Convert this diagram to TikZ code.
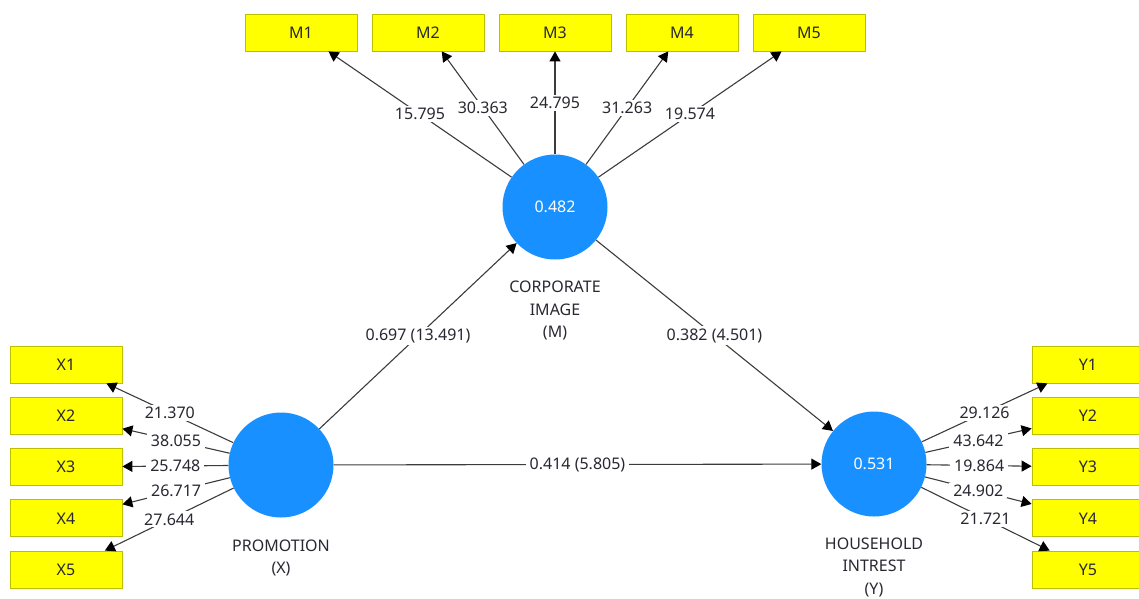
\documentclass[tikz,border=0pt]{standalone}
\usepackage{fontspec}
\setmainfont{Noto Sans}
\usetikzlibrary{arrows.meta}
\definecolor{latblue}{RGB}{24,144,255}
\definecolor{boxyel}{RGB}{255,255,0}
\definecolor{boxedge}{RGB}{190,190,0}
\definecolor{linegray}{RGB}{60,60,60}
\definecolor{txt}{RGB}{40,40,50}
\begin{document}
\begin{tikzpicture}[x=1pt,y=-1pt,
  every node/.style={font=\fontsize{16}{19}\selectfont},
  lat/.style={circle, fill=latblue, minimum size=105pt, inner sep=0pt, text=white},
  ind/.style={rectangle, fill=boxyel, draw=boxedge, line width=0.8pt, minimum width=112pt, minimum height=37pt, inner sep=0pt, text=txt},
  lnk/.style={draw=linegray, line width=1.1pt, -{Triangle[length=10pt,width=11pt,color=black]}},
  lbl/.style={fill=white, inner xsep=4pt, inner ysep=2pt, text=txt, pos=0.5},
  latcap/.style={align=center, text=txt, inner sep=0pt, anchor=north, font=\fontsize{16}{22.5}\selectfont}
]
\useasboundingbox (0,0) rectangle (1139,598);

% latent variables
\node[lat] (M) at (555,207) {0.482};
\node[lat] (X) at (281,465) {};
\node[lat] (Y) at (874,464) {0.531};

\node[latcap] (Mc) at (555,281) {CORPORATE\\IMAGE\\(M)};
\node[latcap] (Xc) at (281,539.5) {PROMOTION\\(X)};
\node[latcap] (Yc) at (874,537.5) {HOUSEHOLD\\INTREST\\(Y)};

% indicators M
\node[ind] (M1) at (301,32.5) {M1};
\node[ind] (M2) at (428,32.5) {M2};
\node[ind] (M3) at (555,32.5) {M3};
\node[ind] (M4) at (682,32.5) {M4};
\node[ind] (M5) at (809,32.5) {M5};

% indicators X
\node[ind] (X1) at (66,364.5) {X1};
\node[ind] (X2) at (66,415.75) {X2};
\node[ind] (X3) at (66,467) {X3};
\node[ind] (X4) at (66,518.25) {X4};
\node[ind] (X5) at (66,569.5) {X5};

% indicators Y
\node[ind] (Y1) at (1088,364.5) {Y1};
\node[ind] (Y2) at (1088,415.75) {Y2};
\node[ind] (Y3) at (1088,467) {Y3};
\node[ind] (Y4) at (1088,518.25) {Y4};
\node[ind] (Y5) at (1088,569.5) {Y5};

% outer loadings
\draw[lnk] (M) -- node[lbl]{15.795} (M1);
\draw[lnk] (M) -- node[lbl]{30.363} (M2);
\draw[lnk] (M) -- node[lbl]{24.795} (M3);
\draw[lnk] (M) -- node[lbl]{31.263} (M4);
\draw[lnk] (M) -- node[lbl]{19.574} (M5);

\draw[lnk] (X) -- node[lbl]{21.370} (X1);
\draw[lnk] (X) -- node[lbl]{38.055} (X2);
\draw[lnk] (X) -- node[lbl]{25.748} (X3);
\draw[lnk] (X) -- node[lbl]{26.717} (X4);
\draw[lnk] (X) -- node[lbl]{27.644} (X5);

\draw[lnk] (Y) -- node[lbl]{29.126} (Y1);
\draw[lnk] (Y) -- node[lbl]{43.642} (Y2);
\draw[lnk] (Y) -- node[lbl]{19.864} (Y3);
\draw[lnk] (Y) -- node[lbl]{24.902} (Y4);
\draw[lnk] (Y) -- node[lbl]{21.721} (Y5);

% structural paths
\draw[lnk] (X) -- node[lbl]{0.697 (13.491)} (M);
\draw[lnk] (M) -- node[lbl]{0.382 (4.501)} (Y);
\draw[lnk] (X) -- node[lbl]{0.414 (5.805)} (Y);
\end{tikzpicture}
\end{document}
